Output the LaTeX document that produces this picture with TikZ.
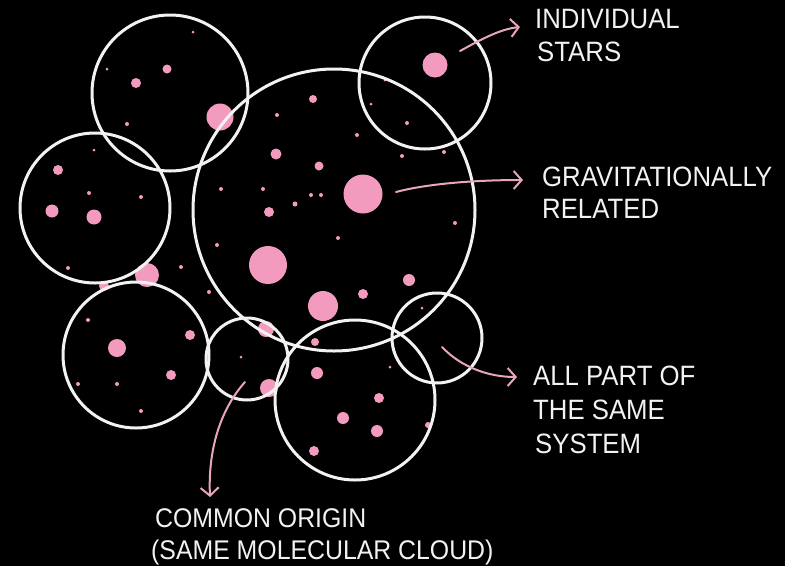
\documentclass[tikz,border=0pt]{standalone}
\usepackage{fontspec}
\setmainfont[FakeStretch=0.92]{Liberation Sans}
\usetikzlibrary{arrows.meta}
\definecolor{dotpink}{RGB}{242,155,190}
\definecolor{arrowpink}{RGB}{232,165,192}
\definecolor{chalk}{RGB}{242,242,242}
\tikzset{
  ring/.style={circle, draw=chalk, line width=3pt, inner sep=0pt, fill=none},
  lbl/.style={anchor=base west, inner sep=0pt, text=chalk, font=\fontsize{28}{32}\selectfont},
  lblsmall/.style={lbl, font=\fontsize{27}{31}\selectfont},
  pointer/.style={draw=arrowpink, line width=2pt, line cap=round,
    -{Straight Barb[length=8pt,width=18pt,line width=2pt]}}
}
\begin{document}
\begin{tikzpicture}[x=1pt,y=-1pt]
\fill[black] (0,0) rectangle (785,566);
\useasboundingbox (0,0) rectangle (785,566);
% stars
\foreach \x/\y/\r in {
193/32/1.5, 167/69/4.5, 136/83/5, 107/69/1.5, 127/124/2, 220/117/13.5,
313/99/4, 277/115/2, 357/135/2, 371/104/1.5, 276/154/5.5, 319/166/4.5,
363/194/19.5, 263/189/2, 295/204/2.5, 311/195/2, 321/195/2, 221/189/2,
269/212/5, 338/238/2, 217/245/2, 268/265/19, 94/150/1.5, 58/170/5,
89/193/2, 141/197/2, 52/211/6.5, 94/217/7.5, 68/268/2, 147/275/12,
181/267/2, 104/286/5, 209/292/2, 323/306/15, 363/294/5, 435/65/12.5,
385/80/1.5, 407/123/2, 402/156/2, 444/152/2, 455/223/2, 409/280/6,
88/320/2, 190/335/5, 117/348/9, 171/375/5, 117/384/2, 78/384/2,
141/411/2, 241/357/1.5, 266/329/8, 269/388/9, 315/342/4, 317/373/6,
390/367/1.5, 379/398/5, 343/418/6, 377/431/6, 314/451/5, 422/308/1.5,
428/425/3}
  \fill[dotpink] (\x,\y) circle[radius=\r];
% circles
\node[ring, minimum size=156pt] (ctl) at (170,93) {};
\node[ring, minimum size=150pt] (cl)  at (95,208) {};
\node[ring, minimum size=282pt] (cbig) at (334,210) {};
\node[ring, minimum size=132pt] (ctr) at (425,83) {};
\node[ring, minimum size=146pt] (cbl) at (136,355) {};
\node[ring, minimum size=82pt]  (csm) at (247,359) {};
\node[ring, minimum size=160pt] (cbot) at (355,400) {};
\node[ring, minimum size=90pt]  (cr)  at (437,338) {};
% labels
\node[lbl] (t1a) at (535,28) {INDIVIDUAL};
\node[lbl] (t1b) at (537,61) {STARS};
\node[lbl] (t2a) at (542,186) {GRAVITATIONALLY};
\node[lbl] (t2b) at (542,218) {RELATED};
\node[lbl] (t3a) at (533,385) {ALL PART OF};
\node[lbl] (t3b) at (533,419) {THE SAME};
\node[lbl] (t3c) at (535,453) {SYSTEM};
\node[lblsmall] (t4a) at (155,527) {COMMON ORIGIN};
\node[lblsmall] (t4b) at (151,559) {(SAME MOLECULAR CLOUD)};
% arrow ends
\coordinate (s1) at (460,51);  \coordinate (e1) at (520,27);
\coordinate (s2) at (396,192); \coordinate (e2) at (523,180);
\coordinate (s3) at (442,347); \coordinate (e3) at (517,377);
\coordinate (s4) at (245,382); \coordinate (e4) at (210,497);
\draw[pointer] (s1) .. controls (480,40) and (500,29) .. (e1);
\draw[pointer] (s2) .. controls (430,183) and (480,180) .. (e2);
\draw[pointer] (s3) .. controls (462,368) and (490,377) .. (e3);
\draw[pointer] (s4) .. controls (220,410) and (208,450) .. (e4);
\end{tikzpicture}
\end{document}
